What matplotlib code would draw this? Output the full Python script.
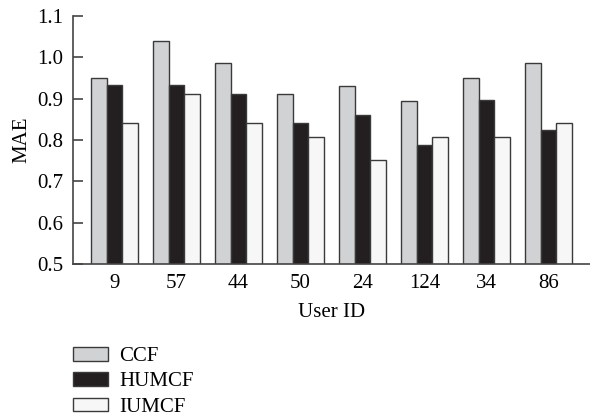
import matplotlib.pyplot as plt
import numpy as np

plt.rcParams['font.family'] = ['Liberation Serif', 'DejaVu Serif']

# data
user_ids = ["9", "57", "44", "50", "24", "124", "34", "86"]
ccf = [0.95, 1.04, 0.985, 0.912, 0.93, 0.895, 0.95, 0.985]
humcf = [0.932, 0.932, 0.912, 0.842, 0.86, 0.788, 0.896, 0.824]
iumcf = [0.841, 0.912, 0.841, 0.806, 0.752, 0.806, 0.806, 0.841]

fig = plt.figure(figsize=(5.9, 4.19), dpi=100)
ax = fig.add_axes([0.1237, 0.370, 0.8763, 0.592])

x = np.arange(len(user_ids))
w = 0.25
edge = "#3a3a3a"
ax.bar(x - w, ccf, width=w, color="#d1d2d4", edgecolor=edge, linewidth=1, label="CCF")
ax.bar(x, humcf, width=w, color="#231f20", edgecolor=edge, linewidth=1, label="HUMCF")
ax.bar(x + w, iumcf, width=w, color="#f7f7f7", edgecolor=edge, linewidth=1, label="IUMCF")

ax.set_ylim(0.5, 1.1)
ax.set_yticks(np.arange(0.5, 1.11, 0.1))
ax.set_yticklabels(["%.1f" % v for v in np.arange(0.5, 1.11, 0.1)])
ax.set_xlim(-0.67, 7.67)
ax.set_xticks(x)
ax.set_xticklabels(user_ids)

ax.spines['top'].set_visible(False)
ax.spines['right'].set_visible(False)
ax.spines['left'].set_color("#444444")
ax.spines['bottom'].set_color("#444444")
ax.spines['left'].set_linewidth(1.2)
ax.spines['bottom'].set_linewidth(1.2)
ax.tick_params(axis='y', direction='in', length=7, width=1.2, color="#444444", labelsize=15, pad=7)
ax.tick_params(axis='x', length=0, labelsize=15, pad=7.5)

ax.set_xlabel("User ID", fontsize=15, labelpad=7)
ax.set_ylabel("MAE", fontsize=15, labelpad=4)

fig.legend(loc="upper left", bbox_to_anchor=(0.1237, 0.172), frameon=False,
           fontsize=15, handlelength=1.68, handleheight=0.63, handletextpad=0.55,
           labelspacing=0.3, borderaxespad=0, borderpad=0)

fig.savefig("out.png", dpi=100)
